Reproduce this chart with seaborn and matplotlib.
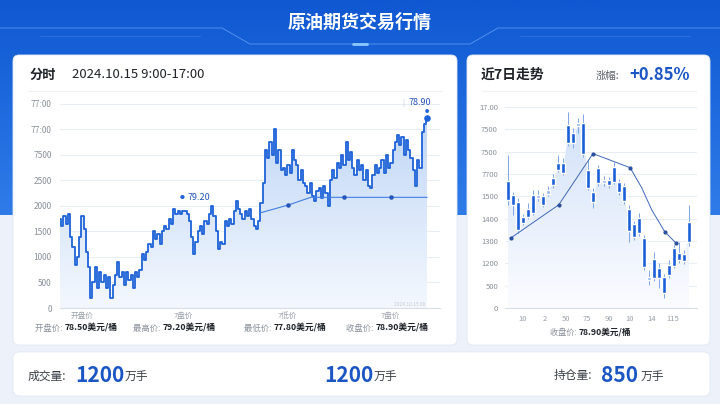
import numpy as np
import pandas as pd
import seaborn as sns
import matplotlib.pyplot as plt
from matplotlib.patches import FancyBboxPatch
from matplotlib.colors import LinearSegmentedColormap

# ---- intraday line (values on the chart's own scale) ----
price = [1750, 1600, 1800, 1650, 1850, 1400, 1200, 850, 1000, 1400, 1800, 1550, 1100, 800, 200, 500,
         800, 400, 700, 500, 650, 400, 600, 200, 450, 650, 900, 600, 700, 450, 700, 550, 650, 400, 700, 600,
         750, 1050, 950, 1100, 1250, 1200, 1500, 1350, 1450, 1250, 1500, 1600, 1550, 1750, 1650, 1950, 1850,
         1900, 1850, 1900,
         1900, 1850, 1700, 1400, 1050, 1300, 1500, 1600, 1450, 1700, 1650, 1850, 2000, 1800, 1500, 1150, 1300,
         1250, 1700, 1600, 1750, 1650, 1900, 2100, 1950, 1850, 1750, 1900, 1800, 1950, 1750, 1600, 1550, 1700,
         2050, 2450, 3100, 2950, 3250, 3000, 3500, 2850, 3100, 2700, 2750, 2600, 2800, 2650, 3100, 2900,
         2800, 2500, 2700, 2450, 2400, 2250, 2450, 2200, 2100, 2300, 2350, 2150, 2400, 2250, 2000,
         2500, 2700, 2550, 2850, 2750, 3000, 2800, 3250, 2900, 3050, 2750, 2600, 2900, 2700,
         2800, 2500, 2700, 2400, 2350, 2600, 2800, 2650, 2750, 2900, 2650, 3000, 2750, 2850,
         3100, 3250, 3400, 3200, 3350, 3000, 3300, 3100, 2950, 2700, 2400, 2900, 2750, 3450, 3600, 3720]
hi_idx = 55
avg_t = [89, 102, 112, 127, 148, 164]
avg_v = [1860, 2020, 2170, 2170, 2170, 2170]
avg_dot = [False, True, False, True, True, False]
left_ylabels = ['0', '500', '1000', '1500', '2000', '2500', '7500', '77:00', '77:00']
left_xlabels = ['开盘价', '7盘价', '7低价', '7盘价']
sum_names = ['开盘价: ', '最高价: ', '最低价: ', '收盘价: ']
sum_vals = ['78.50美元/桶', '79.20美元/桶', '77.80美元/桶', '78.90美元/桶']

# ---- 7-day candles (in tick units of the right chart) ----
body_hi = [5.70, 5.07, 4.75, 4.08, 4.44, 5.07, 5.07, 5.02, 5.29, 5.83, 6.50, 6.50, 8.21, 7.85, 8.30, 8.30, 6.19,
           5.20, 6.28, 5.74, 5.74, 6.32, 5.65, 5.47, 4.44, 3.77, 4.04, 3.14, 1.39, 2.20, 1.79, 1.39, 1.93, 2.69,
           2.47, 2.42, 3.86]
body_lo = [4.84, 4.62, 3.50, 3.81, 4.08, 4.26, 4.93, 4.62, 5.11, 5.52, 6.19, 6.05, 7.40, 7.40, 8.16, 6.91, 5.38,
           4.75, 5.61, 5.61, 5.52, 5.65, 5.20, 4.80, 3.45, 3.18, 3.36, 1.84, 1.26, 1.35, 1.35, 0.67, 1.48, 1.88,
           2.15, 2.11, 2.96]
wick_hi = [6.86, 5.20, 4.93, 4.20, 4.71, 5.29, 5.29, 5.16, 5.47, 6.00, 6.86, 6.73, 8.79, 8.07, 8.52, 8.70, 6.64,
           5.38, 6.41, 5.92, 5.87, 6.55, 5.78, 5.61, 4.62, 3.90, 4.26, 3.27, 1.70, 2.51, 2.02, 1.52, 2.15, 2.83,
           2.96, 2.60, 4.62]
wick_lo = [4.62, 4.17, 3.36, 3.72, 3.99, 4.17, 4.80, 4.53, 5.02, 5.38, 6.10, 5.96, 7.26, 7.17, 7.85, 6.77, 5.29,
           4.48, 5.47, 5.47, 5.38, 5.56, 5.07, 4.66, 2.96, 3.05, 3.23, 1.70, 1.03, 1.21, 0.90, 0.45, 1.35, 1.79,
           2.02, 1.97, 2.78]
ma_x = [0.6, 10.1, 16.9, 24.3, 26.6, 28.6, 31.2, 33.4]
ma_y = [3.14, 4.62, 6.91, 6.28, 5.38, 4.39, 3.41, 2.91]
ma_dot = [True, True, True, True, False, False, True, True]
right_ylabels = ['0', '500', '1200', '1300', '1400', '1500', '7700', '7500', '7500', '17.00']
right_xlabels = ['10', '2', '50', '75', '90', '10', '14', '115']

BLUE = '#1e62d8'
DARK = '#1f2329'
GRAY = '#8a909b'

sns.set_theme(style="white")
plt.rcParams['font.family'] = ['Noto Sans CJK SC', 'DejaVu Sans']

W, H = 720, 404
fig = plt.figure(figsize=(7.2, 4.04), dpi=100)
fig.patch.set_facecolor('#edf2fa')

# background layer in pixel coordinates
bg = fig.add_axes([0, 0, 1, 1])
bg.set_xlim(0, W)
bg.set_ylim(H, 0)
bg.axis('off')
band = LinearSegmentedColormap.from_list('band', ['#0f58d2', '#2f7ce9'])
bg.imshow(np.linspace(0, 1, 200).reshape(-1, 1), cmap=band, aspect='auto',
          extent=[0, W, 215, 0], origin='upper', zorder=0)
bg.plot([0, 222, 250, 470, 498, 720], [28, 28, 44, 44, 28, 28], color='#6aa8f5', lw=0.7, alpha=0.7)
bg.plot([40, 200], [36, 36], color='#6aa8f5', lw=0.5, alpha=0.4)
bg.plot([520, 690], [36, 36], color='#6aa8f5', lw=0.5, alpha=0.4)
bg.plot([353, 367], [44, 44], color='#8cc8ff', lw=2)
bg.text(360, 22, '原油期货交易行情', color='white', fontsize=13, fontweight='bold', ha='center', va='center')


def card(x0, y0, x1, y1):
    bg.add_patch(FancyBboxPatch((x0, y0), x1 - x0, y1 - y0, boxstyle="round,pad=0,rounding_size=6",
                                fc='white', ec='#e1e8f3', lw=0.6, zorder=2))


def label_value(x, y, name, value, size=6):
    t = bg.text(x, y, name, color=GRAY, fontsize=size, va='center', zorder=3)
    bg.annotate(value, xy=(1, 0.5), xycoords=t, color=DARK, fontsize=size + 0.3,
                fontweight='bold', va='center', ha='left', zorder=3)


card(13, 55, 457, 345)
card(467, 55, 710, 345)
card(13, 352, 710, 396)

# headers
bg.text(30, 75, '分时', color=DARK, fontsize=9.5, fontweight='bold', va='center', zorder=3)
bg.text(72, 75, '2024.10.15 9:00-17:00', color=DARK, fontsize=9.5, va='center', zorder=3)
bg.plot([28, 442], [91, 91], color='#eef1f5', lw=0.8, zorder=3)
bg.text(481, 75, '近7日走势', color=DARK, fontsize=10, fontweight='bold', va='center', zorder=3)
bg.text(596, 76, '涨幅:', color='#5b616b', fontsize=7.5, va='center', zorder=3)
bg.text(629, 75, '+0.85%', color='#1c55c4', fontsize=12, fontweight='bold', va='center', zorder=3)
bg.plot([482, 696], [91, 91], color='#eef1f5', lw=0.8, zorder=3)

# summary row under intraday chart
name_x = [35, 133, 244, 346]
for nx, n, v in zip(name_x, sum_names, sum_vals):
    label_value(nx, 328, n, v)
label_value(550, 332, '收盘价: ', '78.90美元/桶', size=5.9)

# bottom volume card
bg.text(28, 376, '成交量:', color='#3a3f47', fontsize=8.5, va='center', zorder=3)
bg.text(75, 375, '1200', color='#1c55c4', fontsize=15, fontweight='bold', va='center', zorder=3)
bg.text(125, 377, '万手', color='#3a3f47', fontsize=8.5, va='center', zorder=3)
bg.text(324, 375, '1200', color='#1c55c4', fontsize=15, fontweight='bold', va='center', zorder=3)
bg.text(374, 377, '万手', color='#3a3f47', fontsize=8.5, va='center', zorder=3)
bg.text(554, 376, '持仓量:', color='#3a3f47', fontsize=8.5, va='center', zorder=3)
bg.text(601, 375, '850', color='#1c55c4', fontsize=15, fontweight='bold', va='center', zorder=3)
bg.text(641, 377, '万手', color='#3a3f47', fontsize=8.5, va='center', zorder=3)


def grad_fill(ax, x, y, c_top, c_bot, y_top, step=None):
    poly = ax.fill_between(x, y, 0, facecolor='none', edgecolor='none', step=step)
    cmap = LinearSegmentedColormap.from_list('g', [c_bot, c_top])
    img = ax.imshow(np.linspace(1, 0, 256).reshape(-1, 1), cmap=cmap, aspect='auto',
                    extent=[x[0], x[-1], 0, y_top], origin='upper', zorder=1)
    img.set_clip_path(poly.get_paths()[0], transform=ax.transData)


def style_axes(ax):
    ax.set_facecolor('none')
    for s in ['left', 'right', 'top']:
        ax.spines[s].set_visible(False)
    ax.spines['bottom'].set_color('#d9dee6')
    ax.spines['bottom'].set_linewidth(0.8)
    ax.grid(axis='y', color='#e9edf3', lw=0.8)
    ax.set_axisbelow(True)
    ax.set_xlabel('')
    ax.set_ylabel('')


# ---- intraday chart ----
axL = fig.add_axes([60 / W, 1 - 308 / H, 380 / W, 211 / H])
df = pd.DataFrame({'t': np.arange(len(price)), 'price': price})
grad_fill(axL, df.t.values, df.price.values, '#bcd4f6', '#f4f8fe', 4000, step='mid')
sns.lineplot(data=df, x='t', y='price', ax=axL, color=BLUE, lw=1.3, drawstyle='steps-mid', zorder=3)
sns.lineplot(x=avg_t, y=avg_v, ax=axL, color='#3f7fe0', lw=0.8, zorder=4)
axL.scatter(np.array(avg_t)[avg_dot], np.array(avg_v)[avg_dot], s=5, color='#2456b8', zorder=5)
axL.annotate('●', (hi_idx, price[hi_idx]), xytext=(-1, 10), textcoords='offset points',
             fontsize=3.5, color=BLUE, ha='center', va='center')
axL.annotate('79.20', (hi_idx, price[hi_idx]), xytext=(3, 10), textcoords='offset points',
             fontsize=6.5, color='#2456b8', ha='left', va='center')
last = len(price) - 1
axL.scatter([last], [price[last]], s=14, color=BLUE, zorder=6)
axL.annotate('●', (last, price[last]), xytext=(0, 4.5), textcoords='offset points',
             fontsize=3, color=BLUE, ha='center', va='center')
axL.annotate('78.90', (last, price[last]), xytext=(-5, 11), textcoords='offset points',
             fontsize=6.5, color='#2456b8', ha='center', va='center')
axL.annotate('|', (last, price[last]), xytext=(-17, 11), textcoords='offset points',
             fontsize=5, color='#b8c6dc', ha='center', va='center')
axL.text(163, 60, '2024.10.15 00', fontsize=3.5, color='#c5cad3', ha='right', va='center')
axL.set_xlim(0, 169.7)
axL.set_ylim(0, 4137)
axL.set_yticks(np.arange(0, 4001, 500), left_ylabels)
axL.set_xticks([30.5, 77, 123.5, 168], ['', '', '', ''])
axL.set_xticks([10, 55, 101.5, 147.5], left_xlabels, minor=True)
axL.tick_params(axis='y', length=0, labelsize=6, labelcolor=GRAY, pad=6)
axL.tick_params(axis='x', which='major', length=3, color='#d9dee6', direction='out')
axL.tick_params(axis='x', which='minor', length=0, labelsize=5.5, labelcolor='#9aa0aa', pad=3)
style_axes(axL)

# ---- 7-day candles ----
axR = fig.add_axes([505 / W, 1 - 308 / H, 192 / W, 208 / H])
n = len(body_hi)
idx = np.arange(n)
mids = (np.array(body_hi) + np.array(body_lo)) / 2
grad_fill(axR, idx.astype(float), mids, '#d3e2f9', '#fbfcff', 8.5)
axR.vlines(idx, wick_lo, wick_hi, color='#7fa6e8', lw=0.7, zorder=3)
heights = np.array(body_hi) - np.array(body_lo)
colors = ['#8fb3f0' if h < 0.2 else '#1a5fd8' for h in heights]
axR.bar(idx, heights, bottom=body_lo, width=0.8, color=colors, zorder=4)
sns.lineplot(x=ma_x, y=ma_y, ax=axR, sort=False, color='#3f68b8', lw=0.7, zorder=5)
axR.scatter(np.array(ma_x)[ma_dot], np.array(ma_y)[ma_dot], s=4, color='#2a4f9e', zorder=6)
axR.set_xlim(-0.6, 37.6)
axR.set_ylim(0, 9.31)
axR.set_yticks(np.arange(len(right_ylabels)), right_ylabels)
axR.set_xticks(3 + 4.25 * np.arange(len(right_xlabels)), right_xlabels)
axR.tick_params(axis='y', length=0, labelsize=5.5, labelcolor=GRAY, pad=5)
axR.tick_params(axis='x', length=0, labelsize=5.5, labelcolor='#9aa0aa', pad=5)
style_axes(axR)

fig.savefig('out.png', dpi=100, facecolor=fig.get_facecolor())
